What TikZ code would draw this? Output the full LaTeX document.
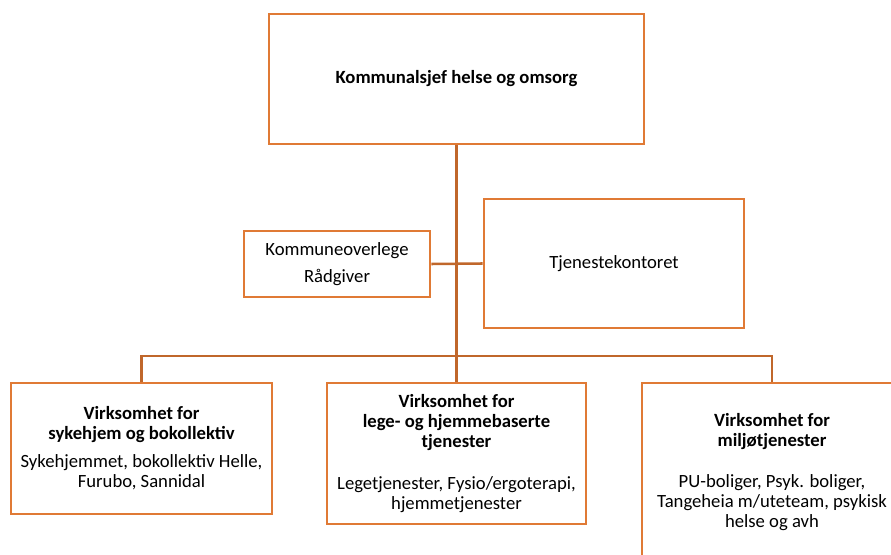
\documentclass[tikz,border=0pt]{standalone}
\usepackage{fontspec}
\setmainfont{Carlito}
\usepackage{xcolor}
\usetikzlibrary{positioning,calc}
\definecolor{boxorange}{HTML}{E07A35}
\definecolor{linebrown}{HTML}{C0672B}
\tikzset{
  orgbox/.style={draw=boxorange, line width=2.2pt, fill=white, rectangle, align=center, inner sep=0pt, font=\fontsize{14}{15}\selectfont},
  linkline/.style={linebrown, line width=1.9pt}
}

\begin{document}
\begin{tikzpicture}[x=0.75pt,y=-0.75pt]
  \useasboundingbox (0,0) rectangle (891,555);
  \clip (0,0) rectangle (891,555);
  % top level
  \node[orgbox, minimum width=281.25pt, minimum height=97.5pt] (chief) at (456.5,79) {\textbf{Kommunalsjef helse og omsorg}};
  % staff
  \node[orgbox, minimum width=139.5pt, minimum height=49.5pt] (advisor) at (337,264) {Kommuneoverlege\\[5pt]Rådgiver};
  \node[orgbox, minimum width=195pt, minimum height=96.75pt] (office) at (614,263.5) {Tjenestekontoret};
  % units
  \node[orgbox, minimum width=195.75pt, minimum height=98.25pt] (unitA) at (141.5,448.5)
    {\textbf{Virksomhet for}\\\textbf{sykehjem og bokollektiv}\\[6pt]Sykehjemmet, bokollektiv Helle,\\Furubo, Sannidal};
  \node[orgbox, minimum width=194.25pt, minimum height=105.75pt] (unitB) at (456.5,453.5)
    {\textbf{Virksomhet for}\\\textbf{lege- og hjemmebaserte}\\\textbf{tjenester}\\[16.5pt]Legetjenester, Fysio/ergoterapi,\\hjemmetjenester};
  \node[orgbox, minimum width=195pt, minimum height=134.25pt] (unitC) at (772,472.5)
    {\textbf{Virksomhet for}\\\textbf{miljøtjenester}\\[15.75pt]PU-boliger, Psyk. boliger,\\Tangeheia m/uteteam, psykisk\\helse og avh};
  \coordinate (bus) at (456.5,356);
  % connectors
  \draw[linkline] (chief.south) -- (unitB.north);
  \draw[linkline] (advisor.east) -- (office.west);
  \draw[linkline] (unitA.north) |- (bus) -| (unitC.north);
\end{tikzpicture}
\end{document}
